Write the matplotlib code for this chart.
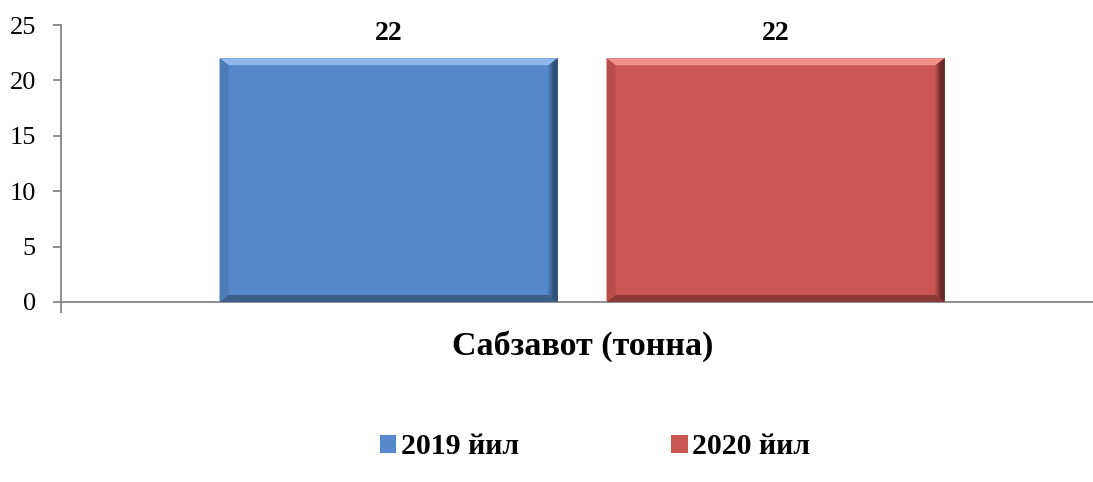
import matplotlib
matplotlib.use("Agg")
import matplotlib.pyplot as plt
from matplotlib.patches import Polygon
import numpy as np

category = "Сабзавот (тонна)"
series = ["2019 йил", "2020 йил"]
values = [22, 22]
yticks = [0, 5, 10, 15, 20, 25]

colors = ["#5588C9", "#CB5754"]
light = ["#8DB8EC", "#F2908C"]
dark_right = ["#1F3550", "#3E1717"]
dark_bottom = ["#3C5E89", "#8A3937"]
dark_left = ["#4C7BB6", "#B84C49"]

plt.rcParams['font.family'] = ['Liberation Serif', 'DejaVu Serif']

fig = plt.figure(figsize=(10.93, 4.82), dpi=100)
W, H = 1093, 482
ax = fig.add_axes([61 / W, (H - 302) / H, (W - 61) / W, 277 / H])

bw = 0.4
gap = 0.058
offsets = [-(bw + gap) / 2, (bw + gap) / 2]
ax.set_xlim(-0.6166, 0.6047)
ax.set_ylim(0, 25)

px_x = (0.6047 + 0.6166) / (W - 61)
px_y = 25 / 277
bx = 9 * px_x
by = 7 * px_y

handles = []
for i, (off, v) in enumerate(zip(offsets, values)):
    bars = ax.bar(off, v, width=bw, color=colors[i], edgecolor="none", zorder=2, label=series[i])
    r = bars[0]
    x0, x1 = r.get_x(), r.get_x() + r.get_width()
    y0, y1 = 0, r.get_height()
    ax.add_patch(Polygon([[x0, y1], [x1, y1], [x1 - bx, y1 - by], [x0 + bx, y1 - by]],
                         closed=True, color=light[i], lw=0, zorder=3))
    ax.add_patch(Polygon([[x0, y0], [x1, y0], [x1 - bx, y0 + by], [x0 + bx, y0 + by]],
                         closed=True, color=dark_bottom[i], lw=0, zorder=3))
    ax.add_patch(Polygon([[x0, y0], [x0, y1], [x0 + bx, y1 - by], [x0 + bx, y0 + by]],
                         closed=True, color=dark_left[i], lw=0, zorder=3))
    n = 8
    c0 = np.array(matplotlib.colors.to_rgb(dark_right[i]))
    c1 = np.array(matplotlib.colors.to_rgb(colors[i]))
    for k in range(n):
        f0 = k / n
        f1 = (k + 1) / n
        c = c0 * (1 - f0) + (c1 * 0.85 + c0 * 0.15) * f0
        xa = x1 - bx * f0
        xb = x1 - bx * f1
        ax.add_patch(Polygon([[xa, y0 + by * f0], [xa, y1 - by * f0], [xb, y1 - by * f1], [xb, y0 + by * f1]],
                             closed=True, color=c, lw=0, zorder=3))
    ax.text(off, v + 2.2, str(v), ha="center", va="center", fontsize=20, fontweight="bold")
    handles.append(bars)

for s in ["top", "right"]:
    ax.spines[s].set_visible(False)
for s in ["left", "bottom"]:
    ax.spines[s].set_color("#868686")
    ax.spines[s].set_linewidth(1.3)

ax.set_yticks(yticks)
ax.set_yticklabels([str(t) for t in yticks], fontsize=19)
ax.tick_params(axis="y", direction="out", length=6, color="#868686", width=1.3, pad=12)
ax.set_xticks([-0.6166])
ax.set_xticklabels([""])
ax.tick_params(axis="x", direction="out", length=8, color="#868686", width=1.3)

fig.text(583 / W, 1 - 346 / H, category, ha="center", va="center", fontsize=24.5, fontweight="bold")

leg = fig.legend(handles=[h[0] for h in handles], labels=series, loc="center",
                 bbox_to_anchor=(595 / W, 1 - 447 / H), ncol=2, frameon=False,
                 prop={"size": 21.5, "weight": "bold"}, handlelength=0.55, handleheight=0.55,
                 columnspacing=5.1, handletextpad=0.15)

fig.savefig("out.png", dpi=100)
